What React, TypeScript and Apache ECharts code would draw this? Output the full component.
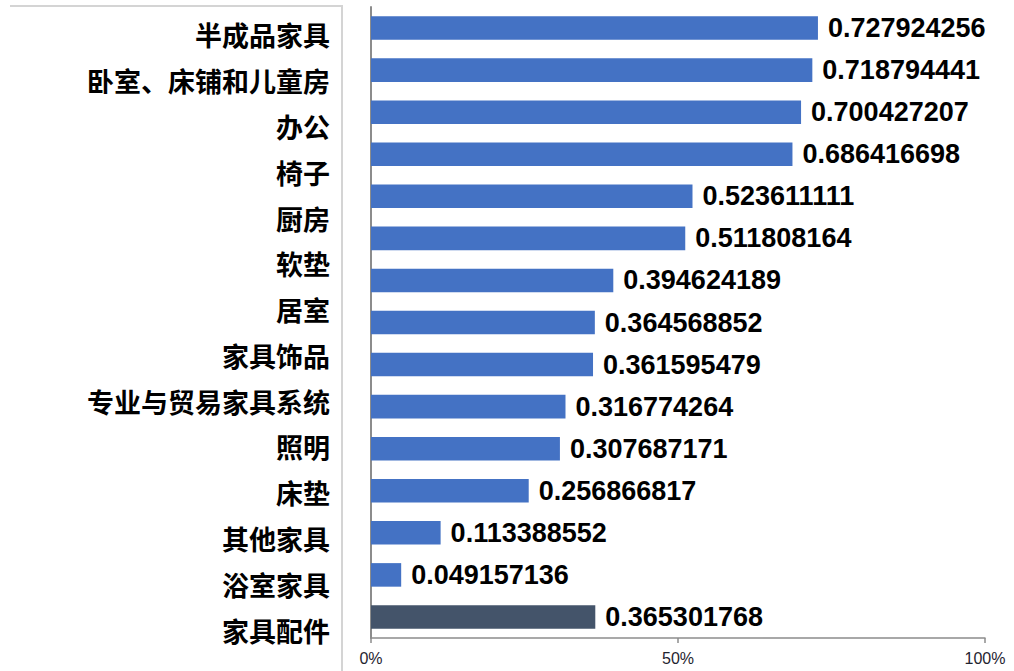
import React, { useEffect, useRef } from "react";
import * as echarts from "echarts";

// Category labels as printed on the left (14 labels)
const categories = [
  "半成品家具",
  "卧室、床铺和儿童房",
  "办公",
  "椅子",
  "厨房",
  "软垫",
  "居室",
  "家具饰品",
  "专业与贸易家具系统",
  "照明",
  "床垫",
  "其他家具",
  "浴室家具",
  "家具配件",
];

// Bar values (15 bars, top to bottom)
const values = [
  0.727924256, 0.718794441, 0.700427207, 0.686416698, 0.523611111, 0.511808164,
  0.394624189, 0.364568852, 0.361595479, 0.316774264, 0.307687171, 0.256866817,
  0.113388552, 0.049157136, 0.365301768,
];

const tickLabels = ["0%", "50%", "100%"];
const highlightIndex = 14;

export default function App() {
  const ref = useRef<HTMLDivElement>(null);
  useEffect(() => {
    if (!ref.current) return;
    const chart = echarts.init(ref.current, null, { renderer: "svg" });
    const barSlots = values.map((_, i) => String(i));
    chart.setOption({
      animation: false,
      grid: [
        { left: 371, right: 29, top: 7, bottom: 33, containLabel: false },
        { left: 371, right: 29, top: 12, bottom: 18, containLabel: false },
      ],
      xAxis: [
        {
          type: "value",
          gridIndex: 0,
          min: 0,
          max: 1,
          interval: 0.5,
          splitLine: { show: false },
          axisLine: { show: true, lineStyle: { color: "#8c8c8c", width: 1.5 } },
          axisTick: { show: true, length: 5, lineStyle: { color: "#8c8c8c", width: 1.5 } },
          axisLabel: {
            formatter: (v: number) => tickLabels[Math.round(v * 2)],
            color: "#1f2430",
            fontSize: 16,
            fontFamily: "Liberation Sans, Arial, sans-serif",
            margin: 12,
          },
        },
        {
          type: "value",
          gridIndex: 1,
          min: 0,
          max: 1,
          show: false,
        },
      ],
      yAxis: [
        {
          type: "category",
          gridIndex: 0,
          inverse: true,
          data: barSlots,
          axisLine: { show: true, lineStyle: { color: "#8c8c8c", width: 2 } },
          axisTick: { show: false },
          axisLabel: { show: false },
        },
        {
          type: "category",
          gridIndex: 1,
          inverse: true,
          data: categories,
          axisLine: { show: false },
          axisTick: { show: false },
          axisLabel: {
            color: "#000",
            fontSize: 27,
            fontWeight: "bold",
            fontFamily: "Noto Sans CJK SC, sans-serif",
            margin: 41,
          },
        },
      ],
      graphic: [
        {
          type: "polyline",
          shape: {
            points: [
              [10, 6],
              [342, 6],
              [342, 671],
            ],
          },
          style: { stroke: "#d4d4d4", lineWidth: 2, fill: null },
        },
      ],
      series: [
        {
          type: "bar",
          xAxisIndex: 0,
          yAxisIndex: 0,
          barWidth: "56%",
          data: values.map((v, i) => ({
            value: v,
            itemStyle: { color: i === highlightIndex ? "#44546A" : "#4472C4" },
          })),
          label: {
            show: true,
            position: "right",
            distance: 10,
            color: "#000",
            fontSize: 27,
            fontWeight: "bold",
            fontFamily: "Liberation Sans, Arial, sans-serif",
            formatter: (p: any) => String(values[p.dataIndex]),
          },
        },
      ],
    });
    return () => chart.dispose();
  }, []);
  return (
    <div
      ref={ref}
      style={{ width: 1014, height: 671, position: "absolute", left: 0, top: 0 }}
    />
  );
}
